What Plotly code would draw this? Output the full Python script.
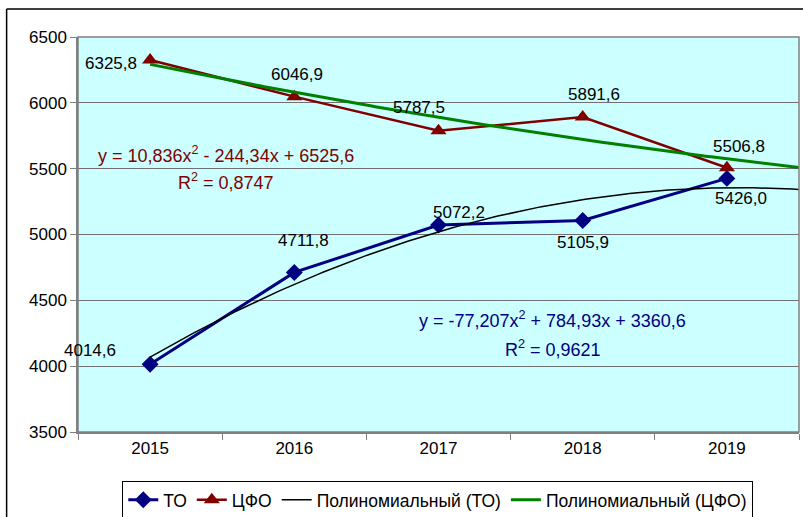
import numpy as np
import plotly.graph_objects as go

years = ["2015", "2016", "2017", "2018", "2019"]
to_values = [4014.6, 4711.8, 5072.2, 5105.9, 5426.0]
cfo_values = [6325.8, 6046.9, 5787.5, 5891.6, 5506.8]
to_labels = ["4014,6", "4711,8", "5072,2", "5105,9", "5426,0"]
cfo_labels = ["6325,8", "6046,9", "5787,5", "5891,6", "5506,8"]
y_ticks = [3500, 4000, 4500, 5000, 5500, 6000, 6500]

BLUE = "#000080"
RED = "#800000"
GREEN = "#008000"
FONT = "Liberation Sans, Arial, sans-serif"

xi = np.arange(len(years))
# polynomial (order 2) trendlines, forecast 0.5 period forward
t = np.arange(1, len(years) + 1)
xx = np.linspace(1, len(years) + 0.5, 200)
to_fit = np.polyval(np.polyfit(t, to_values, 2), xx)
cfo_fit = np.polyval(np.polyfit(t, cfo_values, 2), xx)

fig = go.Figure()
fig.add_trace(go.Scatter(x=xi, y=to_values, name="ТО", mode="lines+markers",
                         line=dict(color=BLUE, width=3),
                         marker=dict(symbol="diamond", size=13, color=BLUE)))
fig.add_trace(go.Scatter(x=xi, y=cfo_values, name="ЦФО", mode="lines+markers",
                         line=dict(color=RED, width=2.5),
                         marker=dict(symbol="triangle-up", size=14, color=RED)))
fig.add_trace(go.Scatter(x=xx - 1, y=to_fit, name="Полиномиальный (ТО)", mode="lines",
                         line=dict(color="black", width=1.5)))
fig.add_trace(go.Scatter(x=xx - 1, y=cfo_fit, name="Полиномиальный (ЦФО)", mode="lines",
                         line=dict(color=GREEN, width=3)))

anns = []
to_shift = [(-60, 14), (9, 32), (20, 12), (0, -22), (14, -20)]
cfo_shift = [(-39, -4), (3, 22), (-20, 23), (11, 23), (12, 21)]
for i in range(len(years)):
    anns.append(dict(x=xi[i], y=to_values[i], text=to_labels[i], showarrow=False,
                     xshift=to_shift[i][0], yshift=to_shift[i][1],
                     font=dict(size=17, color="black", family=FONT)))
    anns.append(dict(x=xi[i], y=cfo_values[i], text=cfo_labels[i], showarrow=False,
                     xshift=cfo_shift[i][0], yshift=cfo_shift[i][1],
                     font=dict(size=17, color="black", family=FONT)))

anns += [
    dict(x=0.526, y=5604, text="y = 10,836x<sup>2</sup> - 244,34x + 6525,6", showarrow=False,
         font=dict(size=18, color=RED, family=FONT)),
    dict(x=0.526, y=5399, text="R<sup>2</sup> = 0,8747", showarrow=False,
         font=dict(size=18, color=RED, family=FONT)),
    dict(x=2.794, y=4351, text="y = -77,207x<sup>2</sup> + 784,93x + 3360,6", showarrow=False,
         font=dict(size=18, color=BLUE, family=FONT)),
    dict(x=2.794, y=4138, text="R<sup>2</sup> = 0,9621", showarrow=False,
         font=dict(size=18, color=BLUE, family=FONT)),
]

shapes = [
    # plot area border
    dict(type="rect", xref="paper", yref="paper", x0=0, y0=0, x1=1, y1=1,
         line=dict(color="#808080", width=1.5), layer="above"),
    # outer chart border (left and top)
    dict(type="line", xref="paper", yref="paper", x0=-0.099, x1=-0.099, y0=1.071, y1=-0.3,
         line=dict(color="black", width=1.5)),
    dict(type="line", xref="paper", yref="paper", x0=-0.099, x1=1.1, y0=1.071, y1=1.071,
         line=dict(color="black", width=1.5)),
]

fig.update_layout(
    width=803, height=517,
    margin=dict(l=78, r=4, t=37, b=85, autoexpand=False),
    paper_bgcolor="white", plot_bgcolor="#CCFFFF",
    font=dict(family=FONT, size=17, color="black"),
    showlegend=True,
    legend=dict(orientation="h", x=0.499, y=-0.172, xanchor="center", yanchor="middle",
                bordercolor="black", borderwidth=1, bgcolor="white",
                font=dict(size=17.5, family=FONT), itemwidth=30, tracegroupgap=0),
    annotations=anns, shapes=shapes,
)
fig.update_xaxes(range=[-0.5, 4.5], tickmode="array", tickvals=list(xi), ticktext=years,
                 ticks="", showgrid=False, zeroline=False, showline=True,
                 linecolor="#808080", linewidth=1.5, automargin=False,
                 tickfont=dict(size=17, family=FONT),
                 minor=dict(tickmode="linear", tick0=-0.5, dtick=1, ticks="outside",
                            ticklen=6, tickcolor="#808080", showgrid=False))
fig.update_yaxes(range=[3500, 6500], tickmode="array", tickvals=y_ticks,
                 ticks="outside", ticklen=6, tickcolor="#808080", automargin=False,
                 showgrid=True, gridcolor="#707070", gridwidth=1, zeroline=False,
                 showline=True, linecolor="#808080", linewidth=1.5,
                 tickfont=dict(size=17, family=FONT))

fig.write_html("out.html", config={"displayModeBar": False},
               post_script="document.body.style.margin='0';document.body.style.overflow='hidden';")
